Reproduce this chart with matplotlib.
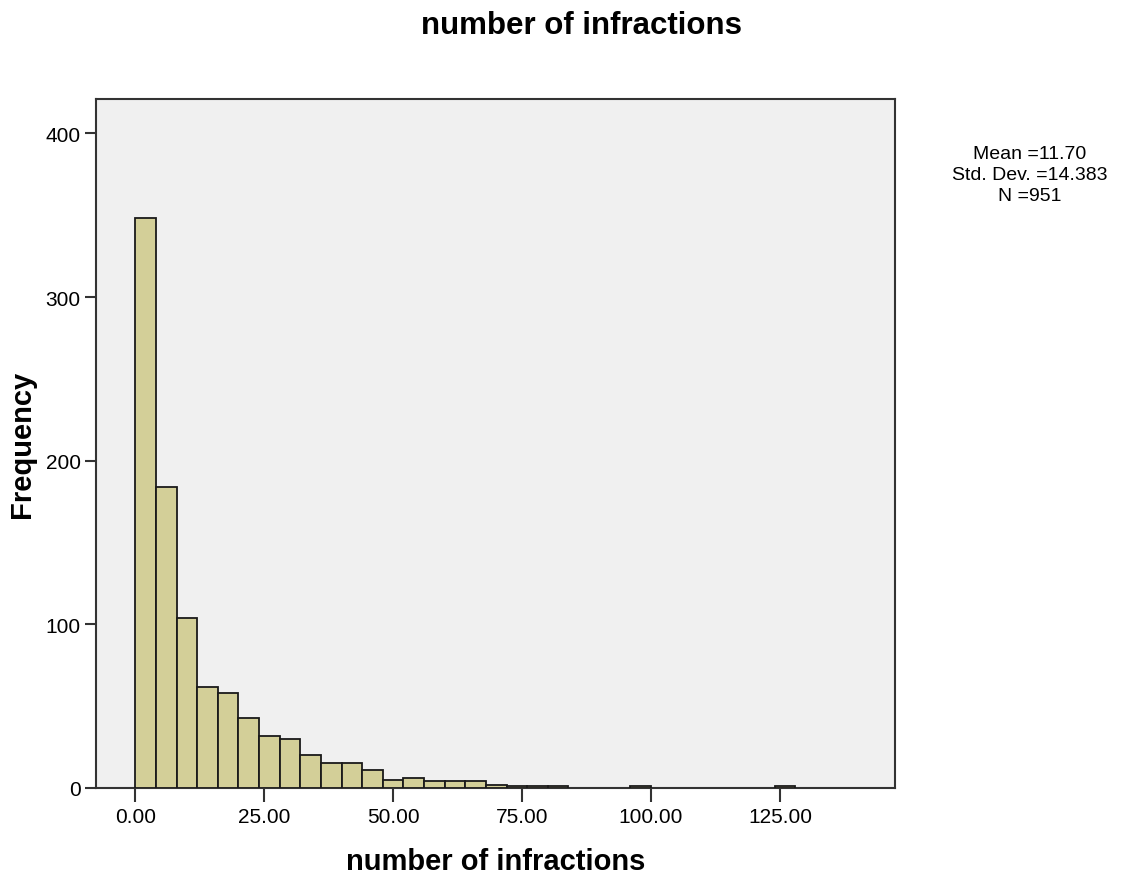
import numpy as np
import matplotlib.pyplot as plt

plt.rcParams['font.family'] = ['Liberation Sans', 'DejaVu Sans']

# histogram bins (width 4, starting at 0) and frequencies
bin_left = np.arange(0, 132, 4)
counts = np.array([348, 184, 104, 62, 58, 43, 32, 30, 20, 15, 15, 11, 5, 6,
                   4, 4, 4, 2, 1, 1, 1, 0, 0, 0, 1, 0, 0, 0, 0, 0, 0, 1, 0])
bin_width = 4

xticks = [0, 25, 50, 75, 100, 125]
yticks = [0, 100, 200, 300, 400]
stats_text = "Mean =11.70\nStd. Dev. =14.383\nN =951"

fig = plt.figure(figsize=(11.34, 8.79), dpi=100)
ax = fig.add_axes([0.0847, 0.1024, 0.7045, 0.7838])
ax.set_facecolor('#f0f0f0')

keep = counts > 0
ax.bar(bin_left[keep], counts[keep], width=bin_width, align='edge',
       color='#d3cf98', edgecolor='#1a1a1a', linewidth=1.3, zorder=3)

ax.set_xlim(-7.6, 147.3)
ax.set_ylim(0, 421)
ax.set_xticks(xticks)
ax.set_xticklabels(['%.2f' % t for t in xticks])
ax.set_yticks(yticks)

for s in ax.spines.values():
    s.set_color('#333333')
    s.set_linewidth(1.5)

ax.tick_params(axis='x', direction='out', length=10, width=1.5, color='#333333',
               labelsize=15, pad=4)
ax.tick_params(axis='y', direction='out', length=8, width=1.5, color='#333333',
               labelsize=15, pad=3)

ax.set_xlabel('number of infractions', fontsize=21, fontweight='bold', labelpad=15)
ax.set_ylabel('Frequency', fontsize=21, fontweight='bold', labelpad=7)
fig.suptitle('number of infractions', fontsize=22.5, fontweight='bold', x=0.513, y=0.988)

fig.text(0.908, 0.834, stats_text, ha='center', va='top', fontsize=14,
         linespacing=1.3)

fig.savefig('out.png', dpi=100)
